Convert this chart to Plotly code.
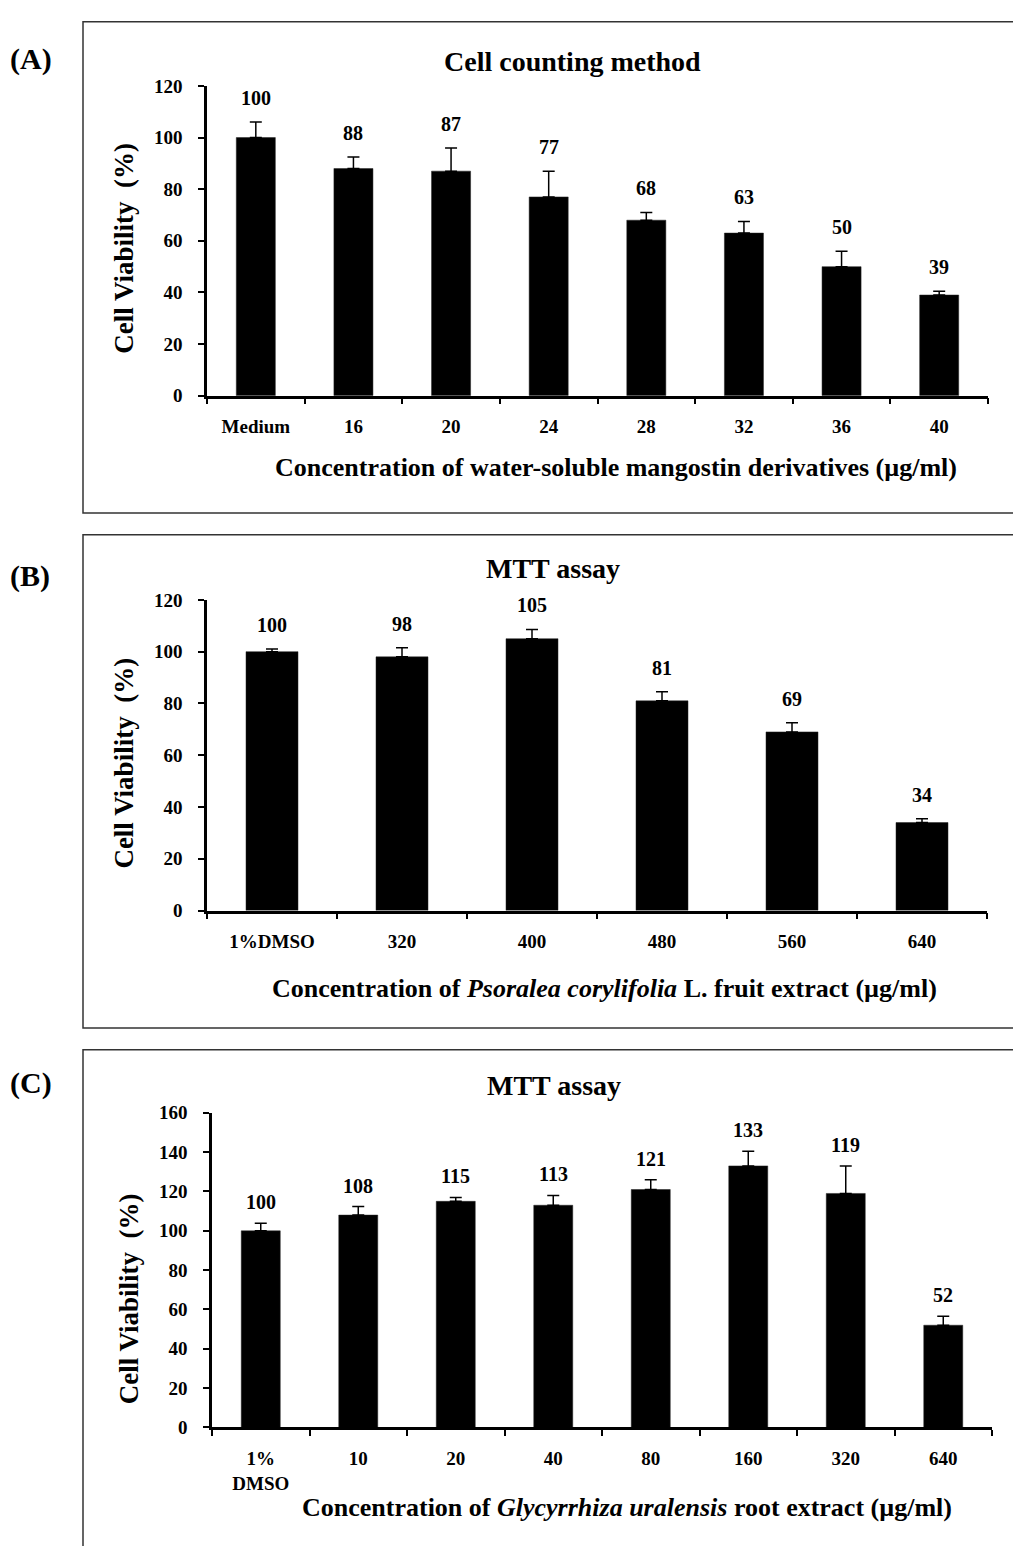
import plotly.graph_objects as go

# ---------------- data ----------------
cats_a = ["Medium", "16", "20", "24", "28", "32", "36", "40"]
vals_a = [100, 88, 87, 77, 68, 63, 50, 39]
err_a = [6, 4.5, 9, 10, 3, 4.5, 6, 1.5]

cats_b = ["1%DMSO", "320", "400", "480", "560", "640"]
vals_b = [100, 98, 105, 81, 69, 34]
err_b = [1, 3.5, 3.6, 3.5, 3.5, 1.5]

cats_c = ["1%<br>DMSO", "10", "20", "40", "80", "160", "320", "640"]
vals_c = [100, 108, 115, 113, 121, 133, 119, 52]
err_c = [3.8, 4.3, 2, 5, 5, 7.5, 14, 4.5]

ytick_a = [0, 20, 40, 60, 80, 100, 120]
ytick_b = [0, 20, 40, 60, 80, 100, 120]
ytick_c = [0, 20, 40, 60, 80, 100, 120, 140, 160]

title_a = "Cell counting method"
title_b = "MTT assay"
title_c = "MTT assay"
xtitle_a = "Concentration of water-soluble mangostin derivatives (µg/ml)"
xtitle_b = "Concentration of <i>Psoralea corylifolia</i> L. fruit extract (µg/ml)"
xtitle_c = "Concentration of <i>Glycyrrhiza uralensis</i> root extract (µg/ml)"
ytitle = "Cell Viability  (%)"

# ---------------- layout helpers ----------------
W, H = 1013, 1546
FONT = "Liberation Serif, Times New Roman, serif"


def px(x):
    return x / W


def py(y):
    return 1 - y / H


fig = go.Figure()

panels = [
    dict(cats=cats_a, vals=vals_a, err=err_a, ticks=ytick_a, rng=[0, 120],
         xd=[207, 988], yd=[77, 391], ax="", title=title_a, tx=572, ty=52,
         xt=xtitle_a, xtx=616, xty=464, ytx=124, yty=242, lshift=24,
         lab="(A)", laby=50, box=[12, 510]),
    dict(cats=cats_b, vals=vals_b, err=err_b, ticks=ytick_b, rng=[0, 120],
         xd=[207, 987], yd=[598, 913], ax="2", title=title_b, tx=553, ty=566,
         xt=xtitle_b, xtx=604, xty=992, ytx=124, yty=764, lshift=24,
         lab="(B)", laby=574, box=[532, 1032]),
    dict(cats=cats_c, vals=vals_c, err=err_c, ticks=ytick_c, rng=[0, 160],
         xd=[212, 992], yd=[1118, 1437], ax="3", title=title_c, tx=554, ty=1090,
         xt=xtitle_c, xtx=627, xty=1518, ytx=129, yty=1307, lshift=21,
         lab="(C)", laby=1088, box=[1054, 1600]),
]

annotations = []
shapes = []
for p in panels:
    ax = p["ax"]
    n = len(p["cats"])
    idx = list(range(n))
    fig.add_trace(go.Bar(
        x=idx, y=p["vals"], width=0.4,
        marker=dict(color="black", line=dict(color="#222222", width=0.5)),
        error_y=dict(type="data", symmetric=False, array=p["err"],
                     arrayminus=[0] * n, color="black",
                     thickness=1.5, width=6),
        xaxis="x" + ax, yaxis="y" + ax, showlegend=False,
    ))
    xkey = "xaxis" + ax
    ykey = "yaxis" + ax
    fig.update_layout(**{
        xkey: dict(domain=[px(p["xd"][0]), px(p["xd"][1])], anchor="y" + ax,
                   type="linear", range=[-0.5, n - 0.5],
                   tickmode="array", tickvals=idx, ticktext=p["cats"],
                   showline=True, linecolor="black", linewidth=2.5,
                   ticks="", showgrid=False, zeroline=False, tickangle=0,
                   ticklabelstandoff=12,
                   tickfont=dict(family=FONT, size=19, color="black", weight="bold"),
                   minor=dict(tickmode="array",
                              tickvals=[i - 0.5 for i in range(n + 1)],
                              ticks="outside", ticklen=6, tickwidth=2,
                              tickcolor="black", showgrid=False)),
        ykey: dict(domain=[py(p["yd"][1]), py(p["yd"][0])], anchor="x" + ax,
                   range=p["rng"], tickvals=p["ticks"],
                   showline=True, linecolor="black", linewidth=2.5,
                   ticks="outside", ticklen=6, tickwidth=2, tickcolor="black",
                   showgrid=False, zeroline=False, ticklabelstandoff=12,
                   tickfont=dict(family=FONT, size=19, color="black", weight="bold")),
    })
    # value labels above error bars
    for i, v, e in zip(idx, p["vals"], p["err"]):
        annotations.append(dict(
            x=i, y=v + e, xref="x" + ax, yref="y" + ax, text=str(v),
            showarrow=False, yshift=p["lshift"], yanchor="middle",
            font=dict(family=FONT, size=20, color="black", weight="bold")))
    # panel title
    annotations.append(dict(
        x=px(p["tx"]), y=py(p["ty"]), xref="paper", yref="paper", text=p["title"],
        showarrow=False, xanchor="center", yanchor="middle",
        font=dict(family=FONT, size=28, color="black", weight="bold")))
    # x-axis title
    annotations.append(dict(
        x=px(p["xtx"]), y=py(p["xty"]), xref="paper", yref="paper", text=p["xt"],
        showarrow=False, xanchor="center", yanchor="middle",
        font=dict(family=FONT, size=26, color="black", weight="bold")))
    # y-axis title
    annotations.append(dict(
        x=px(p["ytx"]), y=py(p["yty"]), xref="paper", yref="paper", text=ytitle,
        showarrow=False, xanchor="center", yanchor="middle", textangle=-90,
        font=dict(family=FONT, size=27, color="black", weight="bold")))
    # panel letter
    annotations.append(dict(
        x=px(8), y=py(p["laby"]), xref="paper", yref="paper", text=p["lab"],
        showarrow=False, xanchor="left", yanchor="middle",
        font=dict(family=FONT, size=30, color="black", weight="bold")))
    # panel frame
    shapes.append(dict(
        type="rect", xref="paper", yref="paper",
        x0=px(83), x1=px(1030), y0=py(p["box"][1]), y1=py(p["box"][0]),
        line=dict(color="#333333", width=1.5), fillcolor="rgba(0,0,0,0)"))

fig.update_layout(
    width=W, height=H, margin=dict(l=0, r=0, t=0, b=0),
    paper_bgcolor="white", plot_bgcolor="white",
    annotations=annotations, shapes=shapes,
)

fig.write_html("out.html",
               config={"displayModeBar": False},
               post_script="document.body.style.margin='0';"
                           "document.body.style.overflow='hidden';")
